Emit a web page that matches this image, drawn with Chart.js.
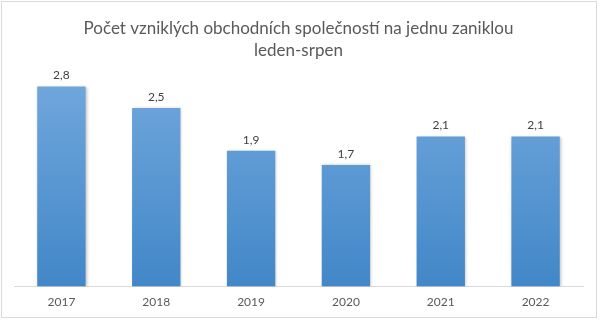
<!DOCTYPE html>
<html>
<head>
<meta charset="utf-8">
<script src="https://cdn.jsdelivr.net/npm/chart.js@4"></script>
<style>
  html, body { margin: 0; padding: 0; background: #fff; }
  #wrap { position: relative; width: 600px; height: 323px; }
  #frame { position: absolute; left: 1px; top: 1px; width: 594px; height: 315px; border: 1px solid #d9d9d9; }
  canvas { position: absolute; left: 0; top: 0; }
</style>
</head>
<body>
<div id="wrap">
  <div id="frame"></div>
  <canvas id="chart" width="600" height="323"></canvas>
</div>
<script>
const years = ['2017', '2018', '2019', '2020', '2021', '2022'];
const ratios = [2.8, 2.5, 1.9, 1.7, 2.1, 2.1];
const titleLines = ['Počet vzniklých obchodních společností na jednu zaniklou', 'leden-srpen'];

const FONT = 'Lato, "Open Sans", sans-serif';

// vertical gradient per bar, light blue on top, darker at the baseline
const gradientPlugin = {
  id: 'gradientPlugin',
  afterLayout(chart) {
    const {ctx, chartArea: {top, bottom}} = chart;
    const g = ctx.createLinearGradient(0, top, 0, bottom);
    g.addColorStop(0, '#72a8dd');
    g.addColorStop(1, '#4287c8');
    chart.data.datasets[0].backgroundColor = g;
  }
};

// soft shadow behind bars
const shadowPlugin = {
  id: 'shadowPlugin',
  beforeDatasetDraw(chart) {
    const ctx = chart.ctx;
    ctx.save();
    ctx.shadowColor = 'rgba(0,0,0,0.25)';
    ctx.shadowBlur = 3;
    ctx.shadowOffsetX = 1;
    ctx.shadowOffsetY = 0;
  },
  afterDatasetDraw(chart) {
    chart.ctx.restore();
  }
};

// value labels above each bar, Czech decimal comma
const valueLabels = {
  id: 'valueLabels',
  afterDatasetsDraw(chart) {
    const ctx = chart.ctx;
    const meta = chart.getDatasetMeta(0);
    ctx.save();
    ctx.font = '12px ' + FONT;
    ctx.fillStyle = '#404040';
    ctx.textAlign = 'center';
    ctx.textBaseline = 'bottom';
    meta.data.forEach((bar, i) => {
      ctx.fillText(ratios[i].toFixed(1).replace('.', ','), bar.x, bar.y - 5);
    });
    ctx.restore();
  }
};

new Chart(document.getElementById('chart'), {
  type: 'bar',
  data: {
    labels: years,
    datasets: [{
      data: ratios,
      backgroundColor: '#5b9bd5',
      borderWidth: 0,
      categoryPercentage: 1,
      barPercentage: 0.51
    }]
  },
  options: {
    responsive: false,
    animation: false,
    layout: { padding: { left: 14, right: 17, top: 8, bottom: 6 } },
    plugins: {
      legend: { display: false },
      tooltip: { enabled: false },
      title: {
        display: true,
        text: titleLines,
        color: '#595959',
        font: { family: FONT, size: 17, weight: 'normal', lineHeight: 1.33 },
        padding: { top: 9, bottom: 10 }
      }
    },
    scales: {
      y: { display: false, min: 0, max: 3 },
      x: {
        grid: { display: false, drawTicks: false },
        border: { display: true, color: '#d9d9d9' },
        ticks: { color: '#595959', font: { family: FONT, size: 12 }, padding: 8 }
      }
    }
  },
  plugins: [gradientPlugin, shadowPlugin, valueLabels]
});
</script>
</body>
</html>
